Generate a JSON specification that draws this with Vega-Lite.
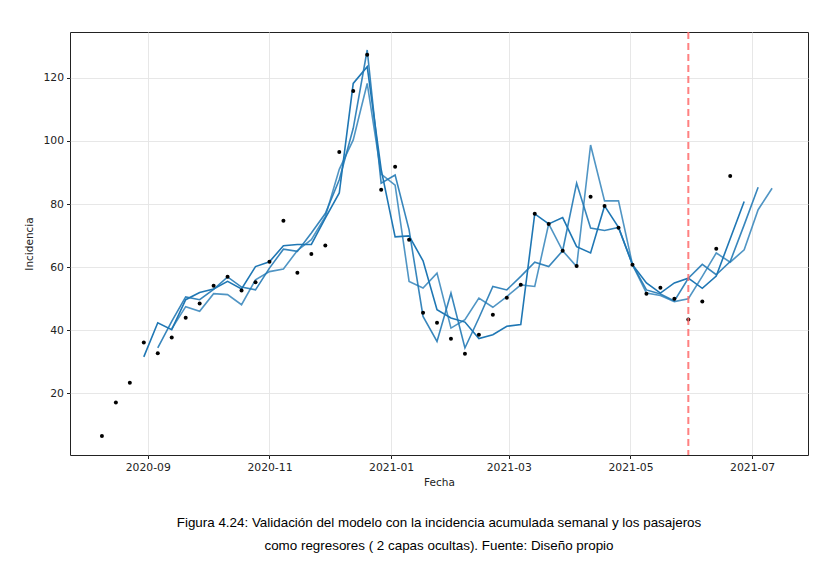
{
  "$schema": "https://vega.github.io/schema/vega-lite/v6.json",
  "width": 738,
  "height": 423,
  "autosize": {"type": "none"},
  "padding": {"left": 70, "top": 32, "right": 20, "bottom": 108},
  "background": "white",
  "config": {
    "font": "DejaVu Sans",
    "view": {"stroke": "#222222", "strokeWidth": 1}
  },
  "title": {
    "text": "Figura 4.24: Validación del modelo con la incidencia acumulada semanal  y los pasajeros",
    "subtitle": "como regresores ( 2 capas ocultas).  Fuente: Diseño propio",
    "orient": "bottom",
    "anchor": "middle",
    "offset": 28,
    "font": "Liberation Sans",
    "fontSize": 13.4,
    "fontWeight": "normal",
    "color": "#000000",
    "subtitleFont": "Liberation Sans",
    "subtitleFontSize": 13.4,
    "subtitleColor": "#000000",
    "subtitlePadding": 10
  },
  "datasets": {
    "obs": [
      {"date": "2020-08-09", "v": 6.5},
      {"date": "2020-08-16", "v": 17.1},
      {"date": "2020-08-23", "v": 23.4},
      {"date": "2020-08-30", "v": 36.1},
      {"date": "2020-09-06", "v": 32.7},
      {"date": "2020-09-13", "v": 37.7},
      {"date": "2020-09-20", "v": 44.0},
      {"date": "2020-09-27", "v": 48.5},
      {"date": "2020-10-04", "v": 54.1},
      {"date": "2020-10-11", "v": 57.0},
      {"date": "2020-10-18", "v": 52.6},
      {"date": "2020-10-25", "v": 55.2},
      {"date": "2020-11-01", "v": 61.7},
      {"date": "2020-11-08", "v": 74.7},
      {"date": "2020-11-15", "v": 58.2},
      {"date": "2020-11-22", "v": 64.2},
      {"date": "2020-11-29", "v": 66.9},
      {"date": "2020-12-06", "v": 96.5},
      {"date": "2020-12-13", "v": 115.8},
      {"date": "2020-12-20", "v": 127.3},
      {"date": "2020-12-27", "v": 84.5},
      {"date": "2021-01-03", "v": 91.8},
      {"date": "2021-01-10", "v": 68.7},
      {"date": "2021-01-17", "v": 45.6},
      {"date": "2021-01-24", "v": 42.4},
      {"date": "2021-01-31", "v": 37.3},
      {"date": "2021-02-07", "v": 32.6},
      {"date": "2021-02-14", "v": 38.6},
      {"date": "2021-02-21", "v": 44.9},
      {"date": "2021-02-28", "v": 50.3},
      {"date": "2021-03-07", "v": 54.4},
      {"date": "2021-03-14", "v": 76.9},
      {"date": "2021-03-21", "v": 73.7},
      {"date": "2021-03-28", "v": 65.2},
      {"date": "2021-04-04", "v": 60.4},
      {"date": "2021-04-11", "v": 82.3},
      {"date": "2021-04-18", "v": 79.4},
      {"date": "2021-04-25", "v": 72.5},
      {"date": "2021-05-02", "v": 60.8},
      {"date": "2021-05-09", "v": 51.6},
      {"date": "2021-05-16", "v": 53.5},
      {"date": "2021-05-23", "v": 50.0},
      {"date": "2021-05-30", "v": 43.4},
      {"date": "2021-06-06", "v": 49.1},
      {"date": "2021-06-13", "v": 65.8},
      {"date": "2021-06-20", "v": 88.9}
    ],
    "pred": [
      {"date": "2020-08-30", "serie": "h1", "v": 31.6},
      {"date": "2020-09-06", "serie": "h1", "v": 42.4},
      {"date": "2020-09-13", "serie": "h1", "v": 40.2},
      {"date": "2020-09-20", "serie": "h1", "v": 49.7},
      {"date": "2020-09-27", "serie": "h1", "v": 52.0},
      {"date": "2020-10-04", "serie": "h1", "v": 53.1},
      {"date": "2020-10-11", "serie": "h1", "v": 55.5},
      {"date": "2020-10-18", "serie": "h1", "v": 53.1},
      {"date": "2020-10-25", "serie": "h1", "v": 60.2},
      {"date": "2020-11-01", "serie": "h1", "v": 61.7},
      {"date": "2020-11-08", "serie": "h1", "v": 66.8},
      {"date": "2020-11-15", "serie": "h1", "v": 67.2},
      {"date": "2020-11-22", "serie": "h1", "v": 67.2},
      {"date": "2020-11-29", "serie": "h1", "v": 75.5},
      {"date": "2020-12-06", "serie": "h1", "v": 83.5},
      {"date": "2020-12-13", "serie": "h1", "v": 118.2},
      {"date": "2020-12-20", "serie": "h1", "v": 123.5},
      {"date": "2020-12-27", "serie": "h1", "v": 91.0},
      {"date": "2021-01-03", "serie": "h1", "v": 69.6},
      {"date": "2021-01-10", "serie": "h1", "v": 69.9},
      {"date": "2021-01-17", "serie": "h1", "v": 62.0},
      {"date": "2021-01-24", "serie": "h1", "v": 46.5},
      {"date": "2021-01-31", "serie": "h1", "v": 43.9},
      {"date": "2021-02-07", "serie": "h1", "v": 42.6},
      {"date": "2021-02-14", "serie": "h1", "v": 37.4},
      {"date": "2021-02-21", "serie": "h1", "v": 38.6},
      {"date": "2021-02-28", "serie": "h1", "v": 41.3},
      {"date": "2021-03-07", "serie": "h1", "v": 41.8},
      {"date": "2021-03-14", "serie": "h1", "v": 76.9},
      {"date": "2021-03-21", "serie": "h1", "v": 73.7},
      {"date": "2021-03-28", "serie": "h1", "v": 75.7},
      {"date": "2021-04-04", "serie": "h1", "v": 66.5},
      {"date": "2021-04-11", "serie": "h1", "v": 64.5},
      {"date": "2021-04-18", "serie": "h1", "v": 79.4},
      {"date": "2021-04-25", "serie": "h1", "v": 72.6},
      {"date": "2021-05-02", "serie": "h1", "v": 60.8},
      {"date": "2021-05-09", "serie": "h1", "v": 55.0},
      {"date": "2021-05-16", "serie": "h1", "v": 51.8},
      {"date": "2021-05-23", "serie": "h1", "v": 55.0},
      {"date": "2021-05-30", "serie": "h1", "v": 56.5},
      {"date": "2021-06-06", "serie": "h1", "v": 53.3},
      {"date": "2021-06-13", "serie": "h1", "v": 57.2},
      {"date": "2021-06-20", "serie": "h1", "v": 69.0},
      {"date": "2021-06-27", "serie": "h1", "v": 80.8},

      {"date": "2020-09-06", "serie": "h2", "v": 34.4},
      {"date": "2020-09-13", "serie": "h2", "v": 42.8},
      {"date": "2020-09-20", "serie": "h2", "v": 50.6},
      {"date": "2020-09-27", "serie": "h2", "v": 49.7},
      {"date": "2020-10-04", "serie": "h2", "v": 53.0},
      {"date": "2020-10-11", "serie": "h2", "v": 56.9},
      {"date": "2020-10-18", "serie": "h2", "v": 53.7},
      {"date": "2020-10-25", "serie": "h2", "v": 52.8},
      {"date": "2020-11-01", "serie": "h2", "v": 59.7},
      {"date": "2020-11-08", "serie": "h2", "v": 65.7},
      {"date": "2020-11-15", "serie": "h2", "v": 65.0},
      {"date": "2020-11-22", "serie": "h2", "v": 70.8},
      {"date": "2020-11-29", "serie": "h2", "v": 77.0},
      {"date": "2020-12-06", "serie": "h2", "v": 87.7},
      {"date": "2020-12-13", "serie": "h2", "v": 104.0},
      {"date": "2020-12-20", "serie": "h2", "v": 128.8},
      {"date": "2020-12-27", "serie": "h2", "v": 86.6},
      {"date": "2021-01-03", "serie": "h2", "v": 89.2},
      {"date": "2021-01-10", "serie": "h2", "v": 71.8},
      {"date": "2021-01-17", "serie": "h2", "v": 44.4},
      {"date": "2021-01-24", "serie": "h2", "v": 36.5},
      {"date": "2021-01-31", "serie": "h2", "v": 51.8},
      {"date": "2021-02-07", "serie": "h2", "v": 34.4},
      {"date": "2021-02-14", "serie": "h2", "v": 43.9},
      {"date": "2021-02-21", "serie": "h2", "v": 53.9},
      {"date": "2021-02-28", "serie": "h2", "v": 52.8},
      {"date": "2021-03-07", "serie": "h2", "v": 57.1},
      {"date": "2021-03-14", "serie": "h2", "v": 61.6},
      {"date": "2021-03-21", "serie": "h2", "v": 60.2},
      {"date": "2021-03-28", "serie": "h2", "v": 65.2},
      {"date": "2021-04-04", "serie": "h2", "v": 86.6},
      {"date": "2021-04-11", "serie": "h2", "v": 72.4},
      {"date": "2021-04-18", "serie": "h2", "v": 71.6},
      {"date": "2021-04-25", "serie": "h2", "v": 72.6},
      {"date": "2021-05-02", "serie": "h2", "v": 60.8},
      {"date": "2021-05-09", "serie": "h2", "v": 52.8},
      {"date": "2021-05-16", "serie": "h2", "v": 51.5},
      {"date": "2021-05-23", "serie": "h2", "v": 49.3},
      {"date": "2021-05-30", "serie": "h2", "v": 56.5},
      {"date": "2021-06-06", "serie": "h2", "v": 60.9},
      {"date": "2021-06-13", "serie": "h2", "v": 57.6},
      {"date": "2021-06-20", "serie": "h2", "v": 61.8},
      {"date": "2021-06-27", "serie": "h2", "v": 73.4},
      {"date": "2021-07-04", "serie": "h2", "v": 85.3},

      {"date": "2020-09-13", "serie": "h3", "v": 40.5},
      {"date": "2020-09-20", "serie": "h3", "v": 47.5},
      {"date": "2020-09-27", "serie": "h3", "v": 46.0},
      {"date": "2020-10-04", "serie": "h3", "v": 51.6},
      {"date": "2020-10-11", "serie": "h3", "v": 51.3},
      {"date": "2020-10-18", "serie": "h3", "v": 48.1},
      {"date": "2020-10-25", "serie": "h3", "v": 56.0},
      {"date": "2020-11-01", "serie": "h3", "v": 58.6},
      {"date": "2020-11-08", "serie": "h3", "v": 59.4},
      {"date": "2020-11-15", "serie": "h3", "v": 65.3},
      {"date": "2020-11-22", "serie": "h3", "v": 68.7},
      {"date": "2020-11-29", "serie": "h3", "v": 76.0},
      {"date": "2020-12-06", "serie": "h3", "v": 91.0},
      {"date": "2020-12-13", "serie": "h3", "v": 100.3},
      {"date": "2020-12-20", "serie": "h3", "v": 118.2},
      {"date": "2020-12-27", "serie": "h3", "v": 89.5},
      {"date": "2021-01-03", "serie": "h3", "v": 86.0},
      {"date": "2021-01-10", "serie": "h3", "v": 55.5},
      {"date": "2021-01-17", "serie": "h3", "v": 53.4},
      {"date": "2021-01-24", "serie": "h3", "v": 58.1},
      {"date": "2021-01-31", "serie": "h3", "v": 40.7},
      {"date": "2021-02-07", "serie": "h3", "v": 43.4},
      {"date": "2021-02-14", "serie": "h3", "v": 50.2},
      {"date": "2021-02-21", "serie": "h3", "v": 47.3},
      {"date": "2021-02-28", "serie": "h3", "v": 50.7},
      {"date": "2021-03-07", "serie": "h3", "v": 54.4},
      {"date": "2021-03-14", "serie": "h3", "v": 53.9},
      {"date": "2021-03-21", "serie": "h3", "v": 73.7},
      {"date": "2021-03-28", "serie": "h3", "v": 65.2},
      {"date": "2021-04-04", "serie": "h3", "v": 60.2},
      {"date": "2021-04-11", "serie": "h3", "v": 98.7},
      {"date": "2021-04-18", "serie": "h3", "v": 81.0},
      {"date": "2021-04-25", "serie": "h3", "v": 81.0},
      {"date": "2021-05-02", "serie": "h3", "v": 60.8},
      {"date": "2021-05-09", "serie": "h3", "v": 51.8},
      {"date": "2021-05-16", "serie": "h3", "v": 51.0},
      {"date": "2021-05-23", "serie": "h3", "v": 49.1},
      {"date": "2021-05-30", "serie": "h3", "v": 50.0},
      {"date": "2021-06-06", "serie": "h3", "v": 57.1},
      {"date": "2021-06-13", "serie": "h3", "v": 64.5},
      {"date": "2021-06-20", "serie": "h3", "v": 61.6},
      {"date": "2021-06-27", "serie": "h3", "v": 65.5},
      {"date": "2021-07-04", "serie": "h3", "v": 78.2},
      {"date": "2021-07-11", "serie": "h3", "v": 85.0}
    ],
    "split": [{"date": "2021-05-30"}]
  },
  "encoding": {
    "x": {
      "field": "date",
      "type": "temporal",
      "title": "Fecha",
      "scale": {"type": "utc", "domain": [1595548800000, 1627516800000], "nice": false},
      "axis": {
        "values": [1598918400000, 1604188800000, 1609459200000, 1614556800000, 1619827200000, 1625097600000],
        "labelExpr": "utcFormat(datum.value, '%Y-%m')",
        "grid": true,
        "gridColor": "#e4e4e4",
        "gridWidth": 0.9,
        "domain": false,
        "tickColor": "#222222",
        "tickSize": 3.5,
        "labelPadding": 3,
        "labelFont": "DejaVu Sans",
        "labelFontSize": 10.8,
        "labelColor": "#222222",
        "titleFont": "DejaVu Sans",
        "titleFontSize": 10.5,
        "titleFontWeight": "normal",
        "titleColor": "#222222",
        "titlePadding": 5
      }
    },
    "y": {
      "field": "v",
      "type": "quantitative",
      "title": "Incidencia",
      "scale": {"domain": [0.5, 134.5], "nice": false, "zero": false},
      "axis": {
        "values": [20, 40, 60, 80, 100, 120],
        "grid": true,
        "gridColor": "#e4e4e4",
        "gridWidth": 0.9,
        "domain": false,
        "tickColor": "#222222",
        "tickSize": 3.5,
        "labelPadding": 3,
        "labelFont": "DejaVu Sans",
        "labelFontSize": 10.8,
        "labelColor": "#222222",
        "titleFont": "DejaVu Sans",
        "titleFontSize": 10.5,
        "titleFontWeight": "normal",
        "titleColor": "#222222",
        "titlePadding": 8
      }
    }
  },
  "layer": [
    {
      "data": {"name": "pred"},
      "mark": {"type": "line", "strokeWidth": 1.6, "strokeJoin": "miter"},
      "encoding": {
        "color": {
          "field": "serie",
          "type": "nominal",
          "scale": {"domain": ["h1", "h2", "h3"], "range": ["#1f77b4", "#1f77b4", "#1f77b4"]},
          "legend": null
        },
        "opacity": {
          "field": "serie",
          "type": "nominal",
          "scale": {"domain": ["h1", "h2", "h3"], "range": [1, 0.78, 0.6]},
          "legend": null
        }
      }
    },
    {
      "data": {"name": "obs"},
      "mark": {"type": "circle", "size": 16, "color": "#000000", "opacity": 1}
    },
    {
      "data": {"name": "split"},
      "mark": {"type": "rule", "color": "#ff6b6b", "strokeDash": [7, 4], "strokeWidth": 2, "opacity": 0.85},
      "encoding": {"y": null}
    }
  ]
}
